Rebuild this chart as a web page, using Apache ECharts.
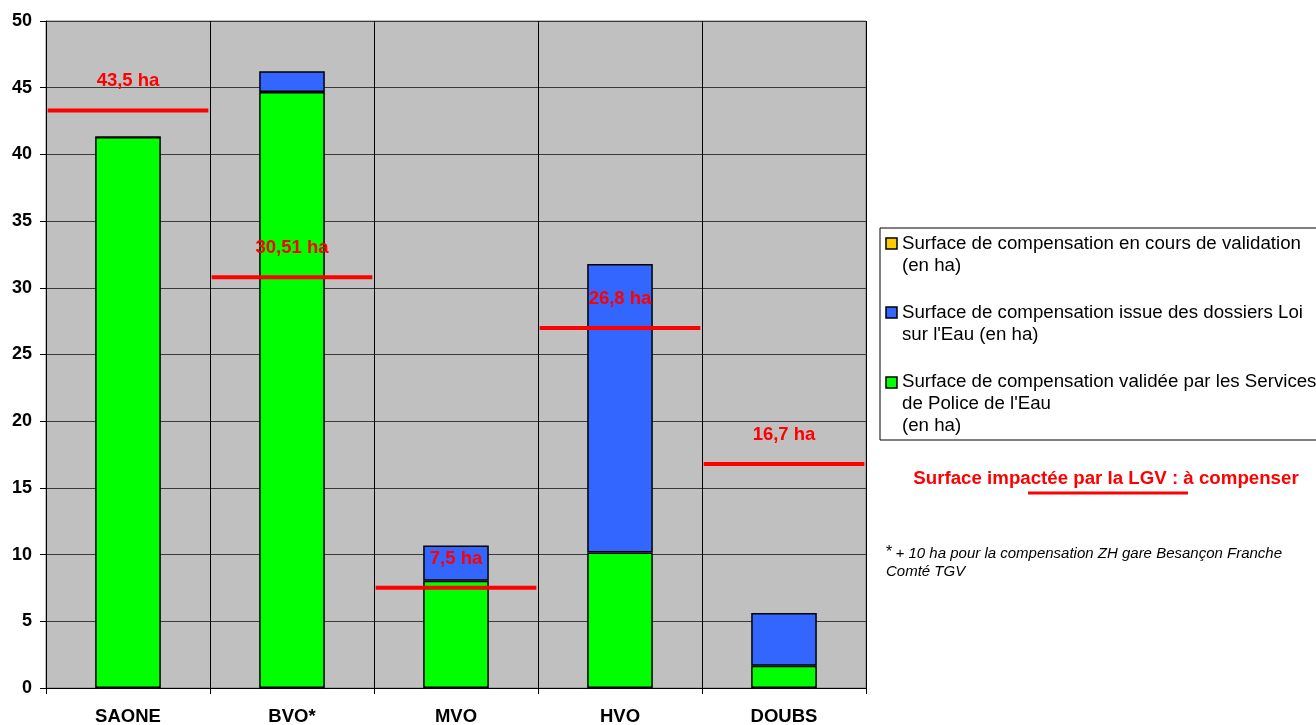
<!DOCTYPE html>
<html lang="fr">
<head>
    <meta charset="utf-8" />
    <title>Surfaces de compensation</title>
    <script src="https://cdn.jsdelivr.net/npm/echarts/dist/echarts.min.js"></script>
    <style>
        html, body { margin: 0; padding: 0; background: #fff; }
        #main { width: 1316px; height: 725px; }
    </style>
</head>
<body>
<div id="main"></div>

<script>
    // donnees
    var secteurs = ['SAONE', 'BVO*', 'MVO', 'HVO', 'DOUBS'];
    var enCours = [0, 0, 0, 0, 0];
    var loiSurEau = [0, 1.57, 2.64, 21.62, 3.95];
    var validee = [41.3, 44.67, 8.04, 10.16, 1.67];
    var aCompenser = [43.3, 30.8, 7.51, 26.99, 16.8];
    var aCompenserTexte = ['43,5 ha', '30,51 ha', '7,5 ha', '26,8 ha', '16,7 ha'];
    var yTicks = [0, 5, 10, 15, 20, 25, 30, 35, 40, 45, 50];

    var police = "'Liberation Sans', Arial, sans-serif";
    var nomJaune = 'Surface de compensation en cours de validation\n(en ha)';
    var nomBleu = "Surface de compensation issue des dossiers Loi\nsur l'Eau (en ha)";
    var nomVert = "Surface de compensation validée par les Services\nde Police de l'Eau\n(en ha)";

    var myChart = echarts.init(document.getElementById('main'), null, {renderer: 'canvas'});

    var ligneData = [];
    for (var i = 0; i < aCompenser.length; i++) {
        ligneData.push([i, aCompenser[i]]);
    }

    option = {
        animation: false,
        textStyle: {fontFamily: police},
        grid: {
            left: 46,
            right: 450,
            top: 21,
            bottom: 37,
            outerBoundsMode: 'none',
            show: true,
            backgroundColor: '#c0c0c0',
            borderColor: '#808080',
            borderWidth: 1
        },
        xAxis: {
            type: 'category',
            data: secteurs,
            axisLine: {lineStyle: {color: '#000', width: 1}},
            axisTick: {show: true, length: 6, lineStyle: {color: '#000'}},
            axisLabel: {
                margin: 19,
                color: '#000',
                fontWeight: 'bold',
                fontSize: 18.5,
                fontFamily: police
            },
            splitLine: {show: true, lineStyle: {color: '#000', width: 1}}
        },
        yAxis: {
            type: 'value',
            min: yTicks[0],
            max: yTicks[yTicks.length - 1],
            interval: 5,
            axisLine: {show: true, lineStyle: {color: '#000'}},
            axisTick: {show: true, length: 6, lineStyle: {color: '#000'}},
            axisLabel: {
                margin: 14,
                color: '#000',
                fontWeight: 'bold',
                fontSize: 18,
                fontFamily: police
            },
            splitLine: {show: true, lineStyle: {color: '#3a3a3a', width: 1}}
        },
        series: [
            {
                name: nomVert,
                type: 'bar',
                stack: 'total',
                barWidth: '40%',
                data: validee,
                itemStyle: {color: '#00ff00', borderColor: '#000', borderWidth: 1.5}
            },
            {
                name: nomBleu,
                type: 'bar',
                stack: 'total',
                barWidth: '40%',
                data: loiSurEau,
                itemStyle: {color: '#3366ff', borderColor: '#000', borderWidth: 1.5}
            },
            {
                name: nomJaune,
                type: 'bar',
                stack: 'total',
                barWidth: '40%',
                data: enCours,
                itemStyle: {color: '#ffcc00', borderColor: '#000', borderWidth: 0}
            },
            {
                name: 'Surface impactée par la LGV',
                type: 'custom',
                z: 10,
                data: ligneData,
                renderItem: function (params, api) {
                    var p = api.coord([api.value(0), api.value(1)]);
                    var w = api.size([1, 0])[0];
                    return {
                        type: 'group',
                        children: [
                            {
                                type: 'line',
                                shape: {x1: p[0] - w * 0.49, y1: p[1], x2: p[0] + w * 0.49, y2: p[1]},
                                style: {stroke: '#ff0000', lineWidth: 4}
                            },
                            {
                                type: 'text',
                                x: p[0],
                                y: p[1] - 29,
                                style: {
                                    text: aCompenserTexte[params.dataIndex],
                                    fill: '#ff0000',
                                    font: 'bold 18.5px ' + police,
                                    align: 'center',
                                    verticalAlign: 'middle'
                                }
                            }
                        ]
                    };
                }
            }
        ],
        graphic: [
            // cadre de legende
            {
                type: 'rect',
                shape: {x: 880, y: 228, width: 460, height: 212},
                style: {fill: '#fff', stroke: '#000', lineWidth: 1}
            },
            {
                type: 'rect',
                shape: {x: 886, y: 238, width: 11, height: 11},
                style: {fill: '#ffcc00', stroke: '#000', lineWidth: 1.5}
            },
            {
                type: 'text',
                x: 902, y: 233,
                style: {text: nomJaune, font: '18.7px ' + police, fill: '#000', lineHeight: 22}
            },
            {
                type: 'rect',
                shape: {x: 886, y: 307, width: 11, height: 11},
                style: {fill: '#3366ff', stroke: '#000', lineWidth: 1.5}
            },
            {
                type: 'text',
                x: 902, y: 302,
                style: {text: nomBleu, font: '18.7px ' + police, fill: '#000', lineHeight: 22}
            },
            {
                type: 'rect',
                shape: {x: 886, y: 377, width: 11, height: 11},
                style: {fill: '#00ff00', stroke: '#000', lineWidth: 1.5}
            },
            {
                type: 'text',
                x: 902, y: 371,
                style: {text: nomVert, font: '18.7px ' + police, fill: '#000', lineHeight: 22}
            },
            // surface impactee
            {
                type: 'text',
                x: 1106, y: 479,
                style: {
                    text: 'Surface impactée par la LGV : à compenser',
                    font: 'bold 18.7px ' + police,
                    fill: '#ff0000',
                    align: 'center',
                    verticalAlign: 'middle'
                }
            },
            {
                type: 'line',
                shape: {x1: 1028, y1: 493, x2: 1188, y2: 493},
                style: {stroke: '#ff0000', lineWidth: 3}
            },
            // renvoi
            {
                type: 'text',
                x: 886, y: 545,
                style: {
                    text: '{s|*} {i|+ 10 ha pour la compensation ZH gare Besançon Franche}\n{i|Comté TGV}',
                    fill: '#000',
                    rich: {
                        s: {font: '16px ' + police, fill: '#000', lineHeight: 18, verticalAlign: 'top'},
                        i: {font: 'italic 15px ' + police, fill: '#000', lineHeight: 18}
                    }
                }
            }
        ]
    };

    myChart.setOption(option);
</script>
</body>
</html>
